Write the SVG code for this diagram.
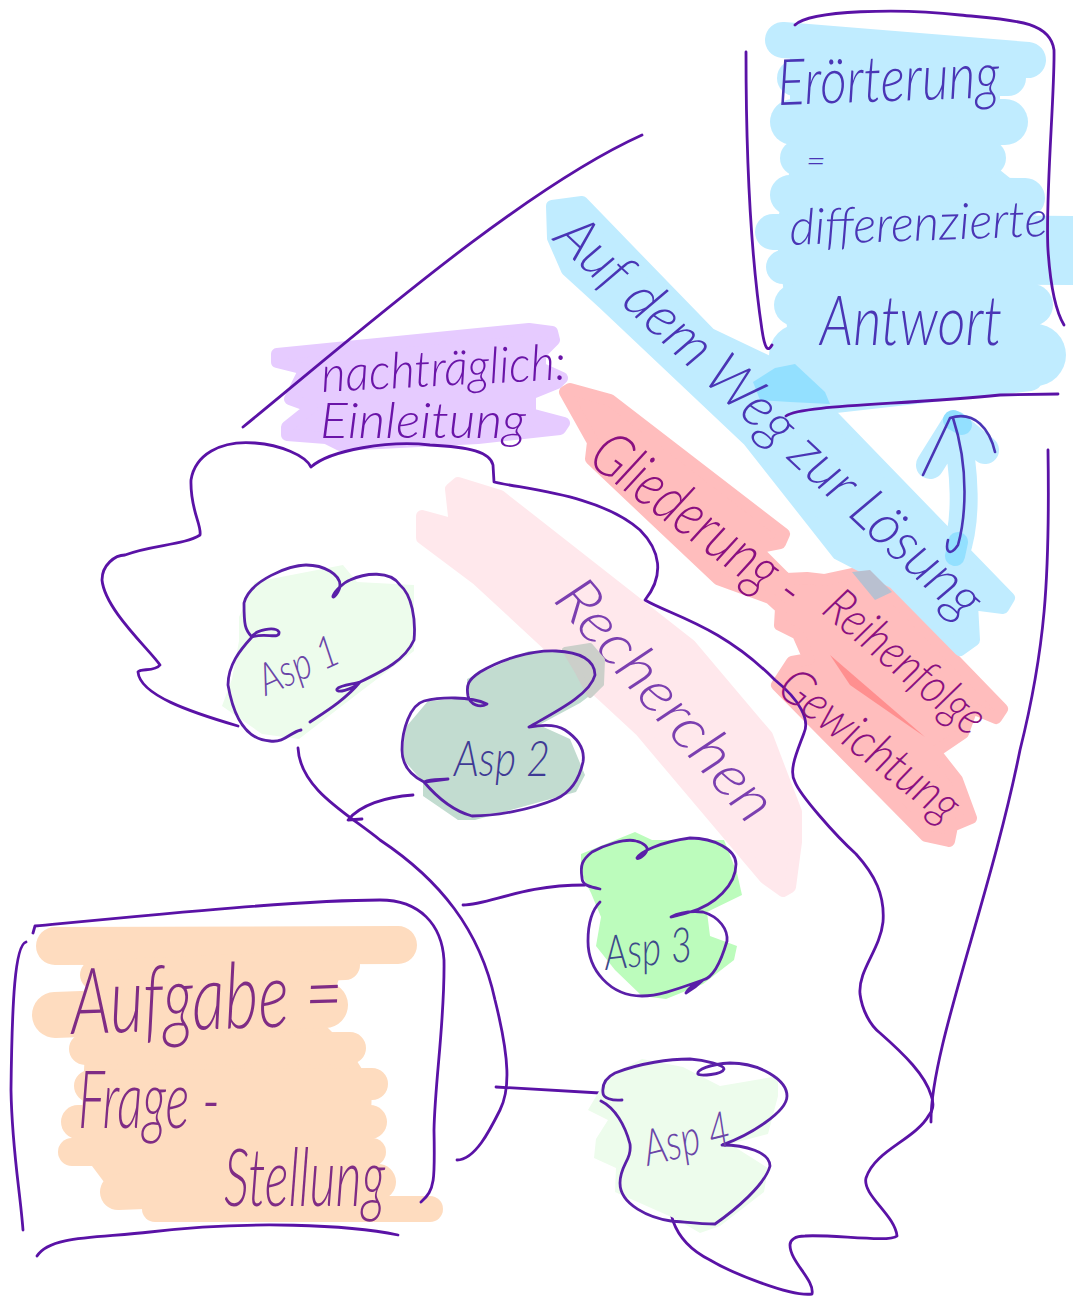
<svg xmlns="http://www.w3.org/2000/svg" width="1073" height="1297" viewBox="0 0 1073 1297">
<style>
.h{stroke-width:12;stroke-linejoin:round}
.l{fill:none;stroke:#5a12a6;stroke-width:2.8;stroke-linecap:round;stroke-linejoin:round}
.o{fill:none;stroke:#5a1fa8;stroke-width:2.8;stroke-linecap:round;stroke-linejoin:round}
text{font-family:"Lato","Liberation Sans",sans-serif;font-style:italic;font-weight:300}
.b{fill:#c0ecff;stroke:#c0ecff}
.r{fill:#ffbdbd;stroke:#ffbdbd}
.sb{fill:none;stroke:#c0ecff;stroke-linecap:round}
.so{fill:none;stroke:#fedcbf;stroke-linecap:round}
</style>
<rect width="1073" height="1297" fill="#ffffff"/>
<g id="highlights">
<polygon class="h" fill="#ffe8ec" stroke="#ffe8ec" points="451,489 458,483 500,496 690,645 767,736 796,812 796,842 790,887 783,891 765,878 640,730 478,580 422,538 422,516 455,525"/>
<polygon class="h r" points="565,392 570,389 610,400 784,534 780,543 755,548 786,579 807,578 824,580 852,574 880,583 1002,709 996,718 972,708 963,733 935,752 957,780 971,818 952,826 949,841 926,836 777,685 792,662 809,659 798,634 780,625 781,608 770,598 718,579 591,459 593,442"/>
<polygon points="830,655 925,737 850,685" fill="#ff8f8f"/>
<polygon class="h b" points="552,206 582,202 710,334 790,372 1009,598 1003,608 972,604 974,640 960,650 894,583 838,554 749,441 603,303 567,270 553,238"/>
<polygon points="852,572 870,570 892,592 875,600" fill="#b9c0d0"/>
<polygon fill="#c0ecff" points="790,40 1000,50 1000,170 1025,190 1030,240 1040,300 1040,370 830,400 790,370 785,300 775,230 790,170"/>
<g class="sb">
<path stroke-width="36" d="M783 40L1028 60"/>
<path stroke-width="36" d="M795 78L1008 78"/>
<path stroke-width="46" d="M793 122L1005 122"/>
<path stroke-width="36" d="M798 158L988 158"/>
<path stroke-width="40" d="M790 195L1025 198"/>
<path stroke-width="36" d="M773 232L1073 234"/>
<path stroke-width="34" d="M783 267L1073 268"/>
<path stroke-width="42" d="M795 305L1032 305"/>
<path stroke-width="62" d="M800 355L1035 355"/>
<path stroke-width="26" d="M835 400L1030 378"/>
</g>
<polygon points="753,382 775,368 795,364 825,392 830,404 790,402 760,400" fill="#93e0ff"/>
<path d="M955 555C968 520 965 470 955 425L930 465M955 425L985 450" fill="none" stroke="#c0ecff" stroke-width="28" stroke-linecap="round" stroke-linejoin="round"/>
<path d="M955 556L958 542M953 420L962 425" stroke="#93e0ff" stroke-width="20" stroke-linecap="round" fill="none"/>
<polygon class="h" fill="#e6cbff" stroke="#e6cbff" points="277,354 529,329 552,332 554,340 540,354 540,368 562,378 557,383 530,394 530,414 564,423 560,429 478,438 340,445 326,438 287,435 287,427 312,407 290,399 305,369 277,362"/>
<polygon fill="#fedcbf" points="60,945 395,945 340,975 325,1025 350,1050 372,1085 370,1150 380,1195 160,1205 110,1190 80,1150 85,1050 70,1010 95,975"/>
<g class="so">
<path stroke-width="38" d="M55 946L398 945"/>
<path stroke-width="30" d="M95 975L345 965"/>
<path stroke-width="46" d="M55 1015L325 1005"/>
<path stroke-width="32" d="M85 1049L350 1048"/>
<path stroke-width="32" d="M90 1086L372 1084"/>
<path stroke-width="34" d="M78 1122L370 1122"/>
<path stroke-width="28" d="M72 1152L372 1152"/>
<path stroke-width="36" d="M118 1192L378 1182"/>
<path stroke-width="26" d="M155 1209L430 1209"/>
</g>
</g>
<g id="connectors">
<path class="l" d="M238 726C190 712 140 695 138 672C140 668 155 672 160 665C150 650 105 610 102 580C102 565 115 555 125 555C150 545 185 545 200 535C202 525 190 510 191 480C195 455 220 440 255 443C280 445 305 455 311 467C330 450 390 440 430 445C470 447 490 452 493 465L494 482C530 490 600 495 640 530C660 550 665 575 645 600C670 615 720 625 775 680C800 700 810 720 804 733C798 750 788 770 795 782C800 795 835 835 856 854C875 875 885 895 883 922C880 950 858 970 860 994C862 1010 870 1025 880 1033C905 1055 925 1075 931 1095C935 1105 932 1112 929 1115C915 1140 875 1150 866 1178C862 1195 895 1215 897 1236C890 1243 830 1234 805 1236C795 1236 790 1240 790 1245C790 1262 815 1280 812 1294C790 1297 730 1272 710 1260C690 1250 678 1235 673 1221C670 1210 668 1200 666 1190"/>
<path class="l" d="M1048 450C1050 580 1045 650 1020 750C990 900 930 1050 931 1122"/>
<path class="l" d="M298 748C300 790 350 815 380 840C440 880 480 930 495 1000C510 1060 510 1090 500 1110C490 1130 475 1160 457 1160"/>
<path class="l" d="M413 795C385 797 360 805 348 820L362 819"/>
<path class="l" d="M463 905C490 905 520 885 585 885"/>
<path class="l" d="M496 1087L600 1093"/>
<path class="l" d="M243 427C350 340 520 190 642 135"/>
<path class="l" d="M33 933L35 926C150 915 300 900 380 900C420 900 442 925 444 960C445 1020 435 1080 434 1130C435 1180 435 1190 421 1202"/>
<path class="l" d="M26 942C15 945 12 1000 11 1090C12 1150 20 1190 23 1230"/>
<path class="l" d="M37 1256C50 1235 100 1238 150 1232C250 1220 350 1225 398 1235"/>
<path class="l" d="M746 52C746 150 750 250 762 330C765 350 768 352 772 345"/>
<path class="l" d="M795 25C810 10 900 8 960 15C1010 20 1050 20 1054 50C1055 90 1045 200 1048 250C1050 280 1055 310 1064 325"/>
<path class="l" d="M786 416C800 405 900 405 1000 395L1058 394"/>
<path d="M923 475L950 418C975 410 990 430 995 452M953 418C970 470 965 520 958 545C950 557 945 552 948 540" fill="none" stroke="#4a35b5" stroke-width="2.6" stroke-linecap="round" stroke-linejoin="round"/>
</g>
<g id="erorterung">
<text x="778" y="105" font-size="64" fill="#4a35b5" textLength="222" lengthAdjust="spacingAndGlyphs" transform="rotate(-2 778 105)">Erörterung</text>
<text x="806" y="172" font-size="34" fill="#4a35b5">=</text>
<text x="790" y="245" font-size="50" fill="#4a35b5" textLength="258" lengthAdjust="spacingAndGlyphs" transform="rotate(-2 790 245)">differenzierte</text>
<text x="820" y="345" font-size="70" fill="#4a35b5" textLength="182" lengthAdjust="spacingAndGlyphs">Antwort</text>
</g>
<g id="auf-dem-weg">
<text x="552" y="240" font-size="58" fill="#4a35b5" textLength="560" lengthAdjust="spacingAndGlyphs" transform="rotate(43 552 240)">Auf dem Weg zur Lösung</text>
</g>
<g id="gliederung">
<text x="586" y="462" font-size="62" fill="#8a1080" textLength="250" lengthAdjust="spacingAndGlyphs" transform="rotate(37 586 462)">Gliederung -</text>
</g>
<g id="reihenfolge">
<text x="820" y="612" font-size="50" fill="#8a1080" textLength="195" lengthAdjust="spacingAndGlyphs" transform="rotate(40 820 612)">Reihenfolge</text>
</g>
<g id="gewichtung">
<text x="775" y="692" font-size="50" fill="#8a1080" textLength="215" lengthAdjust="spacingAndGlyphs" transform="rotate(38 775 692)">Gewichtung</text>
</g>
<g id="recherchen">
<text x="552" y="600" font-size="60" fill="#7b3fb0" textLength="300" lengthAdjust="spacingAndGlyphs" transform="rotate(49 552 600)">Recherchen</text>
</g>
<g id="einleitung">
<text x="322" y="392" font-size="50" fill="#6a14a8" textLength="245" lengthAdjust="spacingAndGlyphs" transform="rotate(-3 322 392)">nachträglich:</text>
<text x="320" y="438" font-size="50" fill="#6a14a8" textLength="206" lengthAdjust="spacingAndGlyphs">Einleitung</text>
</g>
<g id="asp1">
<polygon fill="#edfcec" points="239,617 255,582 343,565 357,582 414,585 414,651 360,692 299,739 262,734 222,706 232,679 239,641"/>
<path class="o" d="M301 730C290 732 285 743 270 741C250 740 235 725 228 685C228 665 240 650 252 637C265 632 280 640 279 632C275 626 255 630 252 637C245 630 244 625 244 603C250 580 290 565 306 565C325 565 340 575 340 585C340 592 332 600 333 596C335 590 345 582 350 580C365 573 390 570 400 585C412 595 416 620 414 640C405 660 385 670 360 682C352 690 335 694 337 689C340 685 355 684 360 682C345 700 325 712 310 722"/>
<text x="266" y="696" font-size="44" fill="#6a45a8" textLength="84" lengthAdjust="spacingAndGlyphs" transform="rotate(-24 266 696)">Asp 1</text>
</g>
<g id="asp2">
<polygon fill="#c2dcd0" points="467,679 529,651 590,651 604,665 604,685 580,703 539,725 570,739 585,775 576,792 475,820 458,820 423,796 423,782 402,758 406,727 428,701 467,698"/>
<polygon fill="#cccfca" stroke="#cccfca" stroke-width="6" stroke-linejoin="round" points="565,650 590,646 602,660 601,684 590,695 578,672"/>
<path class="o" d="M487 704C480 708 470 705 468 696C466 685 468 680 480 672C500 660 530 650 556 651C580 652 595 660 595 675C590 695 555 712 529 727C540 725 556 724 565 730C580 740 585 750 583 762C578 785 565 795 556 799C530 810 495 816 472 816C450 810 435 795 424 782C432 778 440 780 448 779L424 782C410 775 402 765 402 750C402 730 410 705 424 701C440 697 470 696 487 704Z"/>
<text x="454" y="776" font-size="50" fill="#3f3a95" textLength="96" lengthAdjust="spacingAndGlyphs">Asp 2</text>
</g>
<g id="asp3">
<polygon fill="#bcfcbc" points="581,854 635,832 652,840 724,840 737,873 742,895 707,912 710,936 737,946 734,960 703,984 666,999 642,996 615,970 596,946 601,917 591,893 581,873"/>
<path class="o" d="M600 889C590 887 582 885 582 878C580 865 582 860 592 852C605 845 625 838 636 841C645 843 648 848 647 850C645 856 637 860 637 858C640 852 660 842 690 838C715 838 736 850 736 864C736 885 715 905 690 912C680 915 672 917 671 917C680 912 692 911 703 912C720 917 728 930 727 941C720 965 712 978 703 980C695 988 686 993 686 993C690 985 700 982 703 980C680 988 660 996 642 996C610 996 588 970 588 941C588 925 592 910 600 902"/>
<text x="606" y="970" font-size="48" fill="#3d4a8a" textLength="88" lengthAdjust="spacingAndGlyphs" transform="rotate(-6 606 970)">Asp 3</text>
</g>
<g id="asp4">
<polygon fill="#edfcec" points="588,1110 608,1076 642,1059 683,1067 720,1086 778,1076 778,1096 768,1134 730,1144 768,1168 764,1192 720,1226 700,1233 676,1219 615,1192 616,1168 594,1158 596,1139 608,1120"/>
<path class="o" d="M622 1100C612 1101 603 1098 603 1093C602 1085 605 1078 615 1073C640 1063 670 1059 690 1059C705 1060 724 1065 724 1069C722 1075 700 1076 698 1074C696 1070 710 1064 730 1063C760 1063 787 1080 787 1096C787 1112 750 1135 722 1145C745 1145 770 1152 770 1166C765 1185 735 1210 715 1224C700 1224 685 1222 671 1221C650 1218 620 1205 620 1183C620 1165 632 1160 630 1144C625 1125 615 1108 601 1101"/>
<text x="648" y="1166" font-size="50" fill="#6a45a8" textLength="88" lengthAdjust="spacingAndGlyphs" transform="rotate(-14 648 1166)">Asp 4</text>
</g>
<g id="aufgabe">
<text x="72" y="1034" font-size="92" fill="#7f2c85" textLength="272" lengthAdjust="spacingAndGlyphs" transform="rotate(-2 72 1034)">Aufgabe =</text>
<text x="78" y="1128" font-size="80" fill="#7f2c85" textLength="142" lengthAdjust="spacingAndGlyphs">Frage -</text>
<text x="224" y="1206" font-size="80" fill="#7f2c85" textLength="161" lengthAdjust="spacingAndGlyphs">Stellung</text>
</g>
</svg>
